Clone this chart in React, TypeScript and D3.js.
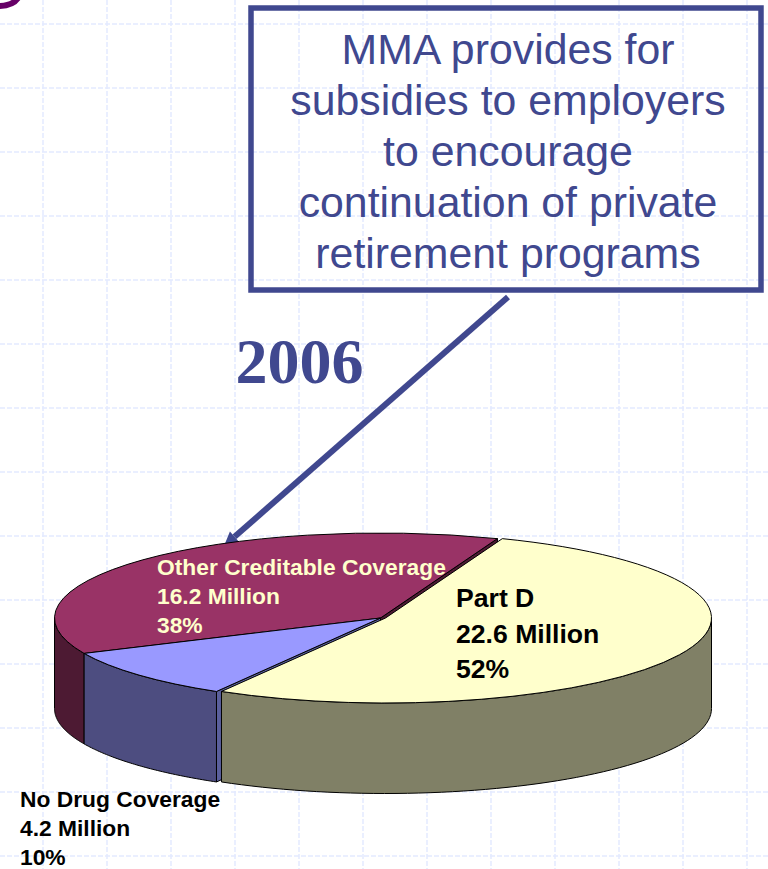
import React from "react";
import * as d3 from "d3";

const categories = ["Part D", "No Drug Coverage", "Other Creditable Coverage"];
const millions = [22.6, 4.2, 16.2];
const percents = ["52%", "10%", "38%"];
const millionLabels = ["22.6 Million", "4.2 Million", "16.2 Million"];
const topColors = ["#FFFFCC", "#9999FF", "#993366"];
const sideColors = ["#808066", "#4D4D80", "#4D1A33"];
const cutColors = ["#808066", "#5A5F9C", "#4D1A33"];
const explodeX = [5, 0, 0];
const calloutLines = [
  "MMA provides for",
  "subsidies to employers",
  "to encourage",
  "continuation of private",
  "retirement programs",
];
const calloutBaselines = [64, 115, 166, 217, 268];

const W = 768;
const H = 869;
const NAVY = "#40488F";
const cx = 380.5;
const cy = 618;
const rx = 326;
const ry = 85;
const depth = 90.5;
const startDeg = 21;

const gridXs = d3.range(43, W, 64);
const gridYs = d3.range(24, H, 64);

const pie = d3
  .pie<number>()
  .sort(null)
  .startAngle((startDeg * Math.PI) / 180)
  .endAngle((startDeg * Math.PI) / 180 + 2 * Math.PI);
const slices = pie(millions);

const arcGen = d3.arc<any>().innerRadius(0).outerRadius(rx);
const pt = (a: number, dx = 0, dy = 0): [number, number] => [
  cx + dx + rx * Math.sin(a),
  cy + dy - ry * Math.cos(a),
];
const line = d3.line();

function wallPath(a0: number, a1: number, dx: number) {
  const lo = Math.max(a0, Math.PI / 2);
  const hi = Math.min(a1, (3 * Math.PI) / 2);
  if (hi <= lo) return null;
  const steps = d3.range(0, 61).map((i) => lo + ((hi - lo) * i) / 60);
  const top = steps.map((a) => pt(a, dx));
  const bottom = steps.slice().reverse().map((a) => pt(a, dx, depth));
  return line([...top, ...bottom]) + "Z";
}

function cutPath(a: number) {
  const e = pt(a);
  return (
    line([
      [cx, cy],
      e,
      [e[0], e[1] + depth],
      [cx, cy + depth],
    ]) + "Z"
  );
}

// arrow geometry
const arrowFrom: [number, number] = [508, 297];
const arrowTip: [number, number] = [224, 546];
const ang = Math.atan2(arrowTip[1] - arrowFrom[1], arrowTip[0] - arrowFrom[0]);
const headLen = 14;
const headW = 7;
const headBase: [number, number] = [
  arrowTip[0] - headLen * Math.cos(ang),
  arrowTip[1] - headLen * Math.sin(ang),
];
const headPts: [number, number][] = [
  arrowTip,
  [headBase[0] - headW * Math.sin(ang), headBase[1] + headW * Math.cos(ang)],
  [headBase[0] + headW * Math.sin(ang), headBase[1] - headW * Math.cos(ang)],
];

const labelBlocks = [
  { i: 2, x: 157, ys: [574.5, 603.5, 632.5], size: 22.8, fill: "#FFFFCC", lines: [categories[2], millionLabels[2], percents[2]] },
  { i: 0, x: 456, ys: [606.5, 642.5, 677.5], size: 26.6, fill: "#000", lines: [categories[0], millionLabels[0], percents[0]] },
  { i: 1, x: 20, ys: [806.5, 836, 865], size: 22.8, fill: "#000", lines: [categories[1], millionLabels[1], percents[1]] },
];

const sans = "'Liberation Sans', Arial, sans-serif";

export default function App() {
  const order = [2, 1, 0];
  return (
    <svg
      width={W}
      height={H}
      viewBox={`0 0 ${W} ${H}`}
      style={{ position: "absolute", left: 0, top: 0, display: "block", background: "#fff" }}
    >
      <g stroke="#E4EAFF" strokeWidth={1.5} strokeDasharray="5 2">
        {gridYs.map((y) => (
          <line key={"h" + y} x1={0} x2={W} y1={y} y2={y} />
        ))}
        {gridXs.map((x) => (
          <line key={"v" + x} x1={x} x2={x} y1={0} y2={H} />
        ))}
      </g>

      <path d="M-2,6 C6,6 14,4 18,-2" fill="none" stroke="#660066" strokeWidth={6} />

      <rect x={251} y={8} width={510} height={282} fill="none" stroke={NAVY} strokeWidth={5.5} />
      <g fontFamily={sans} fontSize={42.8} fill={NAVY} textAnchor="middle">
        {calloutLines.map((t, i) => (
          <text key={t} x={508} y={calloutBaselines[i]}>
            {t}
          </text>
        ))}
      </g>

      <text x={235.5} y={383} fontFamily="'Liberation Serif', 'Times New Roman', serif" fontWeight="bold" fontSize={64} fill={NAVY}>
        2006
      </text>

      <line x1={arrowFrom[0]} y1={arrowFrom[1]} x2={headBase[0]} y2={headBase[1]} stroke={NAVY} strokeWidth={6} />
      <polygon points={headPts.map((p) => p.join(",")).join(" ")} fill={NAVY} />

      {order.map((i) => {
        const s = slices[i];
        const dx = explodeX[i];
        const wall = wallPath(s.startAngle, s.endAngle, dx);
        return (
          <g key={categories[i]} stroke="#000" strokeWidth={1} strokeLinejoin="round">
            {dx === 0 && (
              <>
                <path d={cutPath(i === 1 ? s.startAngle : s.endAngle)} fill={cutColors[i]} />
                {i === 2 && <path d={cutPath(s.endAngle)} fill={cutColors[i]} />}
              </>
            )}
            {wall && <path d={wall} fill={sideColors[i]} />}
            <path
              d={arcGen({ startAngle: s.startAngle, endAngle: s.endAngle }) as string}
              transform={`translate(${cx + dx},${cy}) scale(1,${ry / rx})`}
              fill={topColors[i]}
              vectorEffect="non-scaling-stroke"
            />
          </g>
        );
      })}

      {labelBlocks.map((b) => (
        <g key={b.i} fontFamily={sans} fontWeight="bold" fontSize={b.size} fill={b.fill}>
          {b.lines.map((t, j) => (
            <text key={t} x={b.x} y={b.ys[j]}>
              {t}
            </text>
          ))}
        </g>
      ))}
    </svg>
  );
}
